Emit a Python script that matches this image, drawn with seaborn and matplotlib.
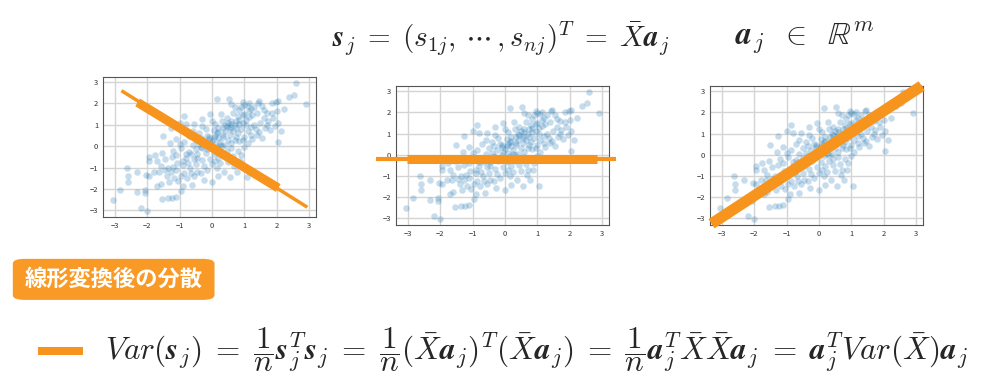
import matplotlib
matplotlib.use("Agg")
import matplotlib.pyplot as plt
import numpy as np
import pandas as pd
import seaborn as sns
from matplotlib.patches import FancyBboxPatch, Rectangle

# scatter cloud (same data in all three panels)
pts_x = [
    2.61, 2.92, 2.37, 2.53, 2.05, 1.98, 1.86, 2.24, 2.02, 1.45, 1.43, 1.54, 1.69, 1.74, 2.05, 2.15, 2.03,
    1.38, 1.80, 1.65, 1.90, 1.60, 1.50, 1.30, 1.25, 1.20, 1.10, 1.00, 0.95, 0.90, 0.85, 0.80, 0.75, 0.70,
    0.95, 1.05, 1.15, 1.00, 0.65, 0.58, 0.53, 0.60, 0.55, 0.90, 1.10, 1.20, 1.35, 1.45, 1.55, 1.25, 1.00,
    0.80, 0.65, 1.40, 1.30, 1.15, 0.70, 0.85, 1.05, 0.75, 1.70, 1.85, 1.60, 1.95, 1.20, 0.95, 1.10, 0.85,
    0.15, 0.28, -0.05, -0.31, -0.87, -0.99, -0.79, -0.56, -1.26, -1.50, -1.10, 0.30, 0.10, 0.45, 0.20,
    0.40, 0.05, -0.20, -0.40, -0.15, 0.10, 0.35, 0.50, 0.25, 0.00, -0.25, -0.50, -0.70, -0.85, -0.60,
    -0.35, -0.10, 0.15, 0.40, 0.60, 0.70, 0.30, 0.05, -0.20, -0.45, -0.70, -0.95, -1.10, -0.80, -0.55,
    -0.30, -0.05, 0.20, 0.45, 0.65, 0.80, 0.50, 0.25, 0.00, -0.25, -0.50, -0.75, -0.60, -0.30, 0.00,
    0.55, 0.20, -0.05, -0.40, -0.15, 0.10, 0.35, 0.60, -0.65, -0.90, -1.00, -1.20, -1.30, -0.35, 0.45,
    0.70, 0.90, 1.00, 0.15, -0.10,
    -3.07, -2.84, -2.63, -2.61, -2.59, -2.32, -2.32, -2.07, -2.07, -2.20, -2.00, -2.05, -1.95, -1.94,
    -1.95, -1.69, -1.59, -1.64, -1.69, -1.59, -1.54, -1.36, -1.23, -1.11, -0.97, -0.89, -1.33, -1.16,
    -1.04, -0.61, -0.77, -0.26, -1.36, -1.46, -1.28, -1.07, -0.89, -0.67, -0.46, -0.15, 0.15, 0.36,
    0.67, 0.87, 0.77, 0.20, 0.00, 0.56, 1.07, -1.80, -1.45, -1.25, -1.55, -1.75, -1.10, -0.85, -0.55,
    -0.35, -1.20, -1.40, -0.65, -0.95,
    0.35, 0.55, 0.75, 0.20, 0.45, 0.60, 0.30, -0.10, -0.30, -0.50, 0.10, 0.25, 0.85, 1.15, 0.40,
    -0.80, -0.45, 0.05, 0.50, 0.95,
]
pts_y = [
    2.94, 1.96, 2.31, 2.42, 2.10, 2.05, 2.02, 1.74, 1.63, 2.10, 2.04, 1.88, 1.57, 1.18, 1.10, 0.70, 0.19,
    0.55, 0.75, 0.85, 1.30, 1.30, 1.10, 1.00, 1.45, 1.75, 1.90, 1.95, 2.05, 1.85, 1.70, 1.40, 1.20, 1.00,
    1.10, 1.25, 1.35, 1.50, 1.55, 1.96, 2.23, 1.20, 0.90, 0.80, 0.70, 0.90, 0.80, 0.65, 0.40, 0.35, 0.45,
    0.60, 0.70, 1.55, 1.85, 2.00, 1.85, 1.05, 1.00, 0.85, 1.00, 1.55, 1.70, 0.95, 0.55, 0.30, 0.15, 0.25,
    2.20, 1.52, 1.49, 1.29, 1.41, 1.10, 1.02, 1.02, 0.86, 0.47, 0.35, 1.20, 1.05, 1.30, 0.85,
    0.70, 0.75, 0.80, 0.60, 0.50, 0.50, 0.45, 0.30, 0.20, 0.25, 0.20, 0.30, 0.50, 0.20, 0.05,
    -0.05, 0.00, -0.05, 0.05, -0.10, 0.30, -0.30, -0.35, -0.30, -0.35, -0.25, -0.10, -0.40, -0.55, -0.60,
    -0.65, -0.60, -0.55, -0.50, -0.45, -0.20, -0.75, -0.80, -0.85, -0.90, -0.85, -0.80, 0.70, 0.95, 1.20,
    0.55, 0.40, 0.15, 0.10, -0.15, 0.10, 0.85, 1.05, -0.35, -0.70, 0.10, -0.20, 0.15, 0.40, -0.20,
    -0.70, -0.40, -0.05, 0.60, 0.35,
    -2.51, -2.04, -1.02, -1.38, -1.65, -1.18, -2.15, -2.04, -2.20, -2.90, -3.01, -1.33, -1.37, -0.52,
    -0.71, -0.71, -0.94, -1.18, -1.84, -1.77, -2.46, -2.43, -2.40, -2.35, -2.09, -1.84, -1.68, -1.49,
    -1.62, -1.80, -1.49, -1.57, -1.02, -1.13, -1.21, -0.78, -0.86, -1.02, -1.18, -1.10, -1.02, -1.18,
    -0.94, -0.71, -1.18, -1.41, -1.65, -1.46, -1.46, -1.20, -0.60, -0.50, -0.30, -0.40, -1.10, -1.25, -1.40,
    -1.25, -0.95, -1.40, -1.25, -1.40,
    0.55, 0.80, 0.45, 0.65, 0.95, 0.15, 0.00, 0.45, -0.10, -0.15, -0.70, 0.05, 1.25, 1.65, 1.00,
    -0.35, -0.55, 0.40, 1.10, 1.45,
]

# projection lines drawn over each panel: (thin x, thin y, thick x, thick y)
line1_thin_x, line1_thin_y = [-2.8, 2.95], [2.6, -2.85]
line1_thick_x, line1_thick_y = [-2.3, 2.05], [2.05, -1.95]
line2_thin_x, line2_thin_y = [-4.0, 3.45], [-0.21, -0.21]
line2_thick_x, line2_thick_y = [-3.03, 2.84], [-0.21, -0.21]
line3_thin_x, line3_thin_y = [-3.3, 3.2], [-3.25, 3.22]
line3_thick_x, line3_thick_y = [-3.32, 3.18], [-3.25, 3.24]

label_text = "線形変換後の分散"
top_formula = (r"$\mathbfit{s}_j \;=\; (s_{1j},\,\cdots\,,s_{nj})^T \;=\; \bar{X}\mathbfit{a}_j$")
top_formula2 = r"$\mathbfit{a}_j \;\;\in\;\; \mathbb{R}^m$"
bottom_formula = (r"$Var(\mathbfit{s}_j) \;=\; \dfrac{1}{n}\mathbfit{s}_j^T\mathbfit{s}_j"
                  r" \;=\; \dfrac{1}{n}(\bar{X}\mathbfit{a}_j)^T(\bar{X}\mathbfit{a}_j)"
                  r" \;=\; \dfrac{1}{n}\mathbfit{a}_j^T\bar{X}\bar{X}\mathbfit{a}_j"
                  r" \;=\; \mathbfit{a}_j^TVar(\bar{X})\mathbfit{a}_j$")

ORANGE = "#F7941D"
df = pd.DataFrame({"x": pts_x, "y": pts_y})

sns.set_style("white")
plt.rcParams["mathtext.fontset"] = "cm"
plt.rcParams["font.family"] = ["Noto Sans CJK JP", "DejaVu Sans"]

fig = plt.figure(figsize=(9.84, 3.91), dpi=100)

axes_pos = [
    [0.1047, 0.445, 0.2165, 0.358],
    [0.4024, 0.4246, 0.2165, 0.3555],
    [0.7215, 0.4246, 0.2165, 0.3555],
]
lines = [
    (line1_thin_x, line1_thin_y, line1_thick_x, line1_thick_y, 2.5, 6.5),
    (line2_thin_x, line2_thin_y, line2_thick_x, line2_thick_y, 3.0, 6.5),
    (line3_thin_x, line3_thin_y, line3_thick_x, line3_thick_y, 3.0, 8.0),
]

for pos, (tx, ty, kx, ky, tw, kw) in zip(axes_pos, lines):
    ax = fig.add_axes(pos)
    sns.scatterplot(data=df, x="x", y="y", ax=ax, color="#1f77b4", alpha=0.25,
                    s=22, linewidth=0, zorder=2)
    ax.plot(tx, ty, color=ORANGE, lw=tw, solid_capstyle="butt", clip_on=False,
            scalex=False, scaley=False, zorder=3)
    ax.plot(kx, ky, color=ORANGE, lw=kw, solid_capstyle="butt", clip_on=False,
            scalex=False, scaley=False, zorder=3)
    ax.set_xticks(range(-3, 4))
    ax.set_yticks(range(-3, 4))
    ax.grid(True, color="#d4d4d4", lw=1.0, zorder=0)
    ax.set_axisbelow(True)
    ax.tick_params(labelsize=5.5, length=2, width=0.6, pad=1.5, colors="#333333")
    ax.set_xlabel("")
    ax.set_ylabel("")
    for sp in ax.spines.values():
        sp.set_color("#555555")
        sp.set_linewidth(0.8)

fig.text(0.337, 0.903, top_formula, fontsize=21, ha="left", va="center")
fig.text(0.747, 0.903, top_formula2, fontsize=23, ha="left", va="center")

box = FancyBboxPatch((0.013, 0.233), 0.205, 0.105, transform=fig.transFigure,
                     boxstyle="round,pad=0,rounding_size=0.012", facecolor="#F99A27",
                     edgecolor="none")
fig.patches.append(box)
fig.text(0.1155, 0.285, label_text, color="white", fontsize=16, fontweight="bold",
         ha="center", va="center")

fig.patches.append(Rectangle((0.039, 0.092), 0.045, 0.02, transform=fig.transFigure,
                             facecolor=ORANGE, edgecolor="none"))
fig.text(0.107, 0.105, bottom_formula, fontsize=22.5, ha="left", va="center")

fig.savefig("out.png", dpi=100)
